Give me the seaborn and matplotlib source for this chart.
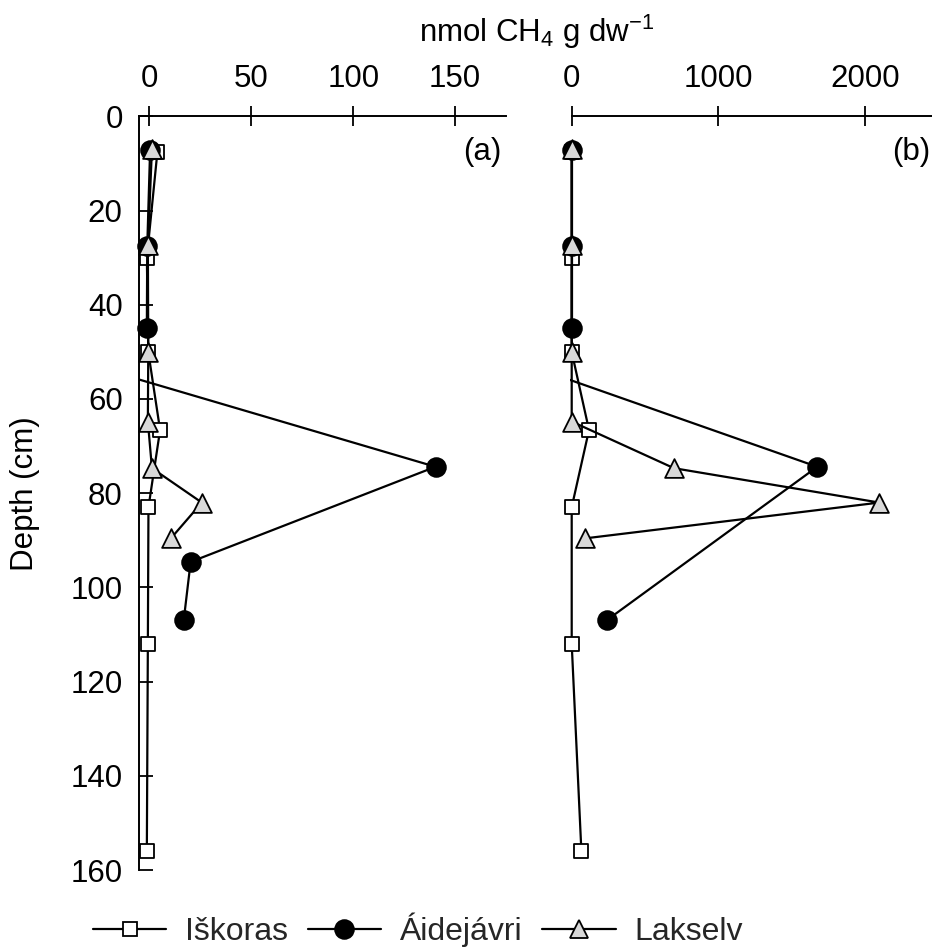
import numpy as np
import pandas as pd
import matplotlib
matplotlib.use("Agg")
import matplotlib.pyplot as plt
from matplotlib.lines import Line2D
from matplotlib.transforms import Bbox, TransformedBbox
import seaborn as sns

# ---------------- data ----------------
sites = ["Iškoras", "Áidejávri", "Lakselv"]

# depths (cm); NaN depth = break in the line
depth_iskoras = [7.5, 30, 50, 66.6, 83, 112, 156]
depth_aidejavri = [7.2, 27.6, 45, np.nan, 55, 74.4, 94.6, 107.0]
depth_lakselv = [7, 27.3, 50, 64.8, 74.7, 82, 89.6]

# panel (a) values, nmol CH4 g dw-1
a_iskoras = [3.9, -1.3, -0.6, 5.2, -0.5, -0.8, -1.3]
a_aidejavri = [0.3, -1.1, -1.3, np.nan, -12, 140.4, 20.2, 16.8]
a_lakselv = [1.2, -0.8, -0.6, -0.8, 1.2, 25.7, 10.5]

# panel (b) values, nmol CH4 g dw-1 (NaN value = not measured)
b_iskoras = [0, 0, 0, 118, 0, 0, 66]
b_aidejavri = [0, 0, 0, np.nan, -100, 1674, np.nan, 238]
b_lakselv = [0, 0, 0, 0, 697, 2097, 91]

xticks_a = [0, 50, 100, 150]
xticks_b = [0, 1000, 2000]
yticks = [0, 20, 40, 60, 80, 100, 120, 140, 160]
panel_labels = ["(a)", "(b)"]

# ---------------- style ----------------
sns.set_theme(style="white")
plt.rcParams["font.family"] = ["Liberation Sans", "DejaVu Sans"]
plt.rcParams["mathtext.fontset"] = "custom"
plt.rcParams["mathtext.rm"] = "Liberation Sans"
plt.rcParams["mathtext.it"] = "Liberation Sans:italic"

FS = 22.5
LFS = 23
styles = {
    "Iškoras": dict(marker="s", ms=10.5, fc="white"),
    "Áidejávri": dict(marker="o", ms=13.5, fc="black"),
    "Lakselv": dict(marker="^", ms=13.5, fc="#d9d9d9"),
}

fig = plt.figure(figsize=(9.32, 9.5), dpi=100)
W, H = 932, 950
top_px, bot_px = 116.3, 870
ax_a = fig.add_axes([139.3 / W, 1 - bot_px / H, (506 - 139.3) / W, (bot_px - top_px) / H])
ax_b = fig.add_axes([571.7 / W, 1 - bot_px / H, (938.4 - 571.7) / W, (bot_px - top_px) / H])
limits = {ax_a: (-5, 175), ax_b: (0, 2500)}


def draw(ax, depths, vals, site, z):
    d = np.asarray(depths, float)
    v = np.asarray(vals, float)
    st = styles[site]
    lo, hi = limits[ax]
    seg = np.cumsum(np.isnan(d))
    for s in np.unique(seg):
        m = (seg == s) & ~np.isnan(d) & ~np.isnan(v)
        if m.sum() == 0:
            continue
        df = pd.DataFrame({"x": v[m], "y": d[m]})
        # connecting line
        sns.lineplot(data=df, x="x", y="y", sort=False, estimator=None,
                     color="black", linewidth=1.6, legend=False, ax=ax,
                     zorder=z)
        # markers for the points inside the axis range
        dm = df[(df.x >= lo) & (df.x <= hi)]
        sns.scatterplot(data=dm, x="x", y="y", marker=st["marker"],
                        s=st["ms"] ** 2, color=st["fc"], edgecolor="black",
                        linewidth=1.3, legend=False, ax=ax, zorder=z + 0.5,
                        clip_on=False)


panel_data = [
    (ax_a, [a_iskoras, a_aidejavri, a_lakselv]),
    (ax_b, [b_iskoras, b_aidejavri, b_lakselv]),
]
depths_all = [depth_iskoras, depth_aidejavri, depth_lakselv]
for ax, vals_list in panel_data:
    for i, (site, dep, vals) in enumerate(zip(sites, depths_all, vals_list)):
        draw(ax, dep, vals, site, 3 + i)

for ax in (ax_a, ax_b):
    ax.set_xlim(*limits[ax])
    ax.set_ylim(160, 0)
    ax.xaxis.tick_top()
    ax.set_xlabel("")
    ax.set_ylabel("")
    for side in ("right", "bottom"):
        ax.spines[side].set_visible(False)
    ax.spines["top"].set_linewidth(1.4)
    ax.spines["top"].set_color("black")
    ax.tick_params(axis="x", direction="inout", length=14, width=1.3,
                   colors="black", labelsize=FS, pad=9, top=True, bottom=False)
    ax.set_facecolor("none")

# let the lines lying on x = 0 in panel (b) show their full width
for ln in ax_b.lines:
    ln.set_clip_box(TransformedBbox(Bbox([[-0.004, -0.01], [1.01, 1.01]]),
                                    ax_b.transAxes))

ax_a.set_xticks(xticks_a)
ax_a.set_yticks(yticks)
ax_a.spines["left"].set_linewidth(1.4)
ax_a.spines["left"].set_color("black")
ax_a.tick_params(axis="y", direction="in", length=10, width=1.3,
                 colors="black", labelsize=FS, pad=12, left=True)
ax_a.set_ylabel("Depth (cm)", fontsize=FS, color="black")
ax_a.yaxis.set_label_coords((40 - 139.3) / 366.7, 0.5)

ax_b.set_xticks(xticks_b)
ax_b.spines["left"].set_visible(False)
ax_b.tick_params(axis="y", left=False, labelleft=False)

ax_a.text(0.989, 0.953, panel_labels[0], transform=ax_a.transAxes,
          ha="right", va="center", fontsize=FS, color="black")
ax_b.text(0.977, 0.953, panel_labels[1], transform=ax_b.transAxes,
          ha="right", va="center", fontsize=FS, color="black")

fig.text(537 / W, 1 - 42 / H, "nmol CH$_4$ g dw$^{-1}$", ha="center",
         va="baseline", fontsize=FS, color="black")

handles = [Line2D([0], [0], color="black", linewidth=1.6, marker=styles[s]["marker"],
                  markersize=styles[s]["ms"], markerfacecolor=styles[s]["fc"],
                  markeredgecolor="black", markeredgewidth=1.3)
           for s in sites]
fig.legend(handles, sites, loc="center", bbox_to_anchor=(418 / W, 1 - 930 / H),
           ncol=3, frameon=False, fontsize=LFS, handlelength=2.3,
           handletextpad=0.6, columnspacing=0.6, borderaxespad=0,
           borderpad=0.2)

fig.savefig("out.png", dpi=100, facecolor="white")
